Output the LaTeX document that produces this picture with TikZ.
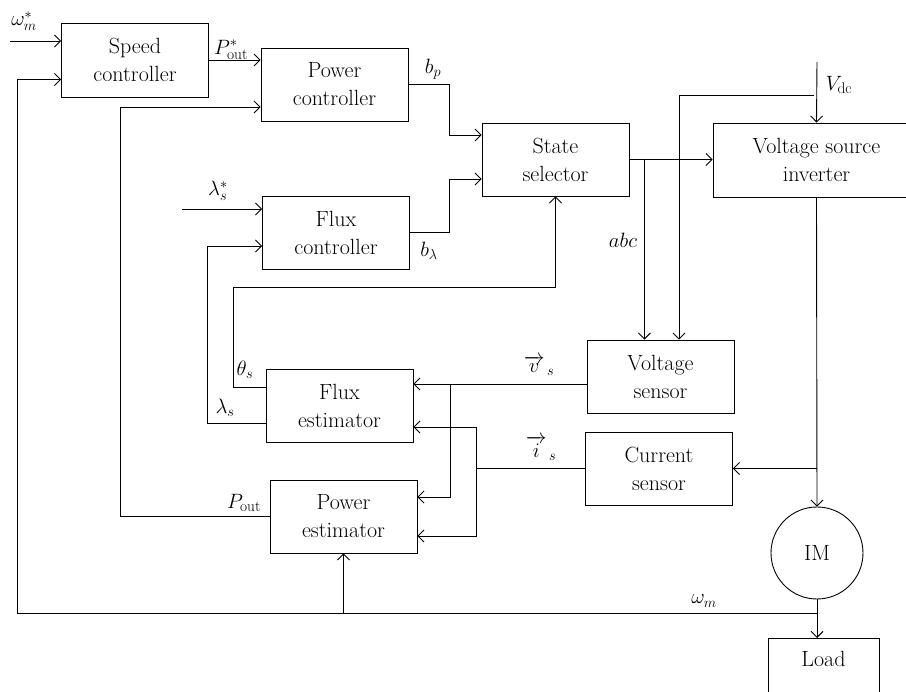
\documentclass[tikz,border=0pt]{standalone}
\usepackage{amsmath}
\usepackage{amssymb}
\usepackage{tikz}
\usetikzlibrary{arrows.meta, positioning, calc}

\begin{document}
\begin{tikzpicture}[
    x=1pt, y=-1pt,
    line width=0.9pt,
    every node/.style={font=\fontsize{22}{28}\selectfont},
    block/.style={rectangle, draw, minimum width=147pt, minimum height=73pt, align=center},
    arrow/.style={-{Straight Barb[length=6pt,width=12pt]}}
]
\clip (0,0) rectangle (906,692);

% Controllers
\node[block, minimum height=74pt] (speed) at (135,60) {Speed\\controller};
\node[block] (power) at (334.5,84.5) {Power\\controller};
\node[block] (flux) at (336,232.5) {Flux\\controller};
\node[block] (state) at (555.5,159.5) {State\\selector};
\node[block, minimum width=207pt, minimum height=74pt] (vsi) at (816.5,160) {Voltage source\\inverter};

% Estimators, sensors and machine
\node[block] (fest) at (339.5,405.5) {Flux\\estimator};
\node[block] (pest) at (343.5,516.5) {Power\\estimator};
\node[block] (vsens) at (660.5,376.5) {Voltage\\sensor};
\node[block] (csens) at (659,468.5) {Current\\sensor};
\node[circle, draw, minimum size=92pt] (im) at (817,553) {IM};
\node[block, minimum width=111pt, anchor=north, label={[anchor=north, yshift=-9pt]north:Load}] (load) at (823.5,638) {};

% Free ends
\coordinate (wref) at (10,41);
\coordinate (lref) at (182,209);
\coordinate (vdc) at (817,62);
\coordinate (wm) at (817,613);

% Speed and power loop
\draw[arrow] (wref) -- (wref -| speed.west);
\node (lwref) at (24,21) {$\omega_m^*$};
\draw[arrow] (speed.east) -- (speed.east -| power.west);
\node (lpref) at (231,50) {$P_{\text{out}}^*$};
\draw[arrow] (power.east) -| ($(state.west)+(-32,-24.5)$) -- ($(state.west)+(0,-24.5)$);
\node (lbp) at (433,69) {$b_p$};
\draw[arrow] (pest.west) -| ($(power.west)+(-140,22.5)$) -- ($(power.west)+(0,22.5)$);
\node (lpout) at (244,503) {$P_{\text{out}}$};
\draw[arrow] (wm) -| ($(speed.west)+(-44,19.5)$) -- ($(speed.west)+(0,19.5)$);
\draw[arrow] (wm -| pest.south) -- (pest.south);
\node (lwm) at (704,601) {$\omega_m$};

% Flux loop
\draw[arrow] (lref) -- (lref -| flux.west);
\node (llref) at (218,191) {$\lambda_s^*$};
\draw[arrow] (flux.east) -| ($(state.west)+(-32,19.5)$) -- ($(state.west)+(0,19.5)$);
\node (lbl) at (429,251) {$b_\lambda$};
\draw[arrow] ($(fest.west)+(0,17.5)$) -| ($(flux.west)+(-55,13.5)$) -- ($(flux.west)+(0,13.5)$);
\node (lls) at (225,408) {$\lambda_s$};
\draw[arrow] ($(fest.west)+(0,-18.5)$) -| ($(fest.west)+(-32,-118.5)$) -| (state.south);
\node (lth) at (245,370) {$\theta_s$};

% Inverter and machine side
\draw[arrow] (vdc) -- (vsi.north);
\node (lvdc) at (839,85) {$V_{\text{dc}}$};
\draw[arrow] ($(vdc)+(-3,33)$) -| ($(vsens.north)+(18.5,0)$);
\draw[arrow] (state.east) -- (state.east -| vsi.west);
\draw[arrow] ($(state.east)+(15,0)$) coordinate (abcb) -- (abcb |- vsens.north);
\node (labc) at (623,240) {$abc$};
\draw[arrow] (vsi.south) -- (im.north);
\draw[arrow] (vsi.south |- csens.east) -- (csens.east);
\draw[arrow] (im.south) -- (im.south |- load.north);

% Sensor feedback
\coordinate (vs) at ($(vsens.west)+(0,7.5)$);
\draw[arrow] (vs) -- (vs -| fest.east);
\draw[arrow] ($(fest.east)+(37,-21.5)$) |- ($(pest.east)+(0,-19.5)$);
\node (lvs) at (539,366) {$\overrightarrow{v}_{\,s}$};
\coordinate (isb) at ($(fest.east)+(63,21.5)$);
\draw (csens.west) -- (csens.west -| isb);
\draw[arrow] (isb) -- (isb -| fest.east);
\draw[arrow] (isb) |- ($(pest.east)+(0,19.5)$);
\node (lis) at (541,448) {$\overrightarrow{i}_{\,s}$};

\end{tikzpicture}
\end{document}
